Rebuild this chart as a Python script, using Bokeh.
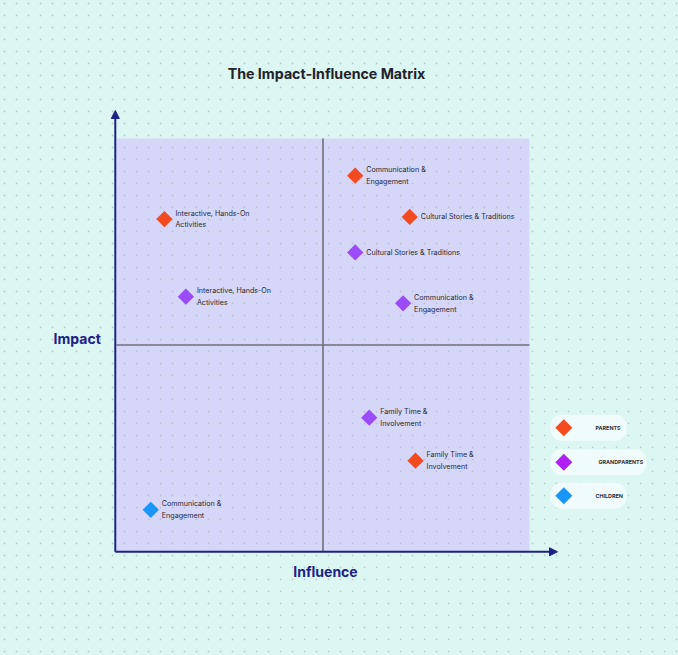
import numpy as np
from bokeh.plotting import figure
from bokeh.models import Range1d, ColumnDataSource, Arrow, NormalHead
from bokeh.core.properties import value
from bokeh.embed import file_html
from bokeh.resources import INLINE

# ---------------- data ----------------
series = ["Parents", "Grandparents", "Children"]
parents_items = ["Communication & Engagement", "Cultural Stories & Traditions",
                 "Interactive, Hands-On Activities", "Family Time & Involvement"]
parents_influence = [5.78, 7.10, 1.16, 7.24]
parents_impact = [9.10, 8.10, 8.05, 2.20]

grand_items = ["Cultural Stories & Traditions", "Communication & Engagement",
               "Interactive, Hands-On Activities", "Family Time & Involvement"]
grand_influence = [5.78, 6.94, 1.68, 6.12]
grand_impact = [7.24, 6.01, 6.17, 3.24]

children_items = ["Communication & Engagement"]
children_influence = [0.83]
children_impact = [1.01]

wrapped = {
    "Communication & Engagement": "Communication &\nEngagement",
    "Cultural Stories & Traditions": "Cultural Stories & Traditions",
    "Interactive, Hands-On Activities": "Interactive, Hands-On\nActivities",
    "Family Time & Involvement": "Family Time &\nInvolvement",
}

title_text = "The Impact-Influence Matrix"
x_label = "Influence"
y_label = "Impact"

# ---------------- style ----------------
BG = "#dcf6f2"
LAV = "#d5d6f8"
NAVY = "#1c2187"
MID = "#6f6f7c"
TXT = "#2a2a33"
COLORS = {"Parents": "#f44a1f", "Grandparents": "#9b4cf8", "Children": "#1a96fb"}
LEG_COLORS = {"Parents": "#f44a1f", "Grandparents": "#b020f5", "Children": "#1a96fb"}
FONT = value("Inter")

W, H = 678, 655
OFF = 0  # figure origin in page pixels
X0, Y0, S = 116.0, 551.0, 41.3


def px(xp):
    return (xp - X0) / S


def py(yp):
    return (Y0 - yp) / S


p = figure(width=W, height=H, output_backend="svg", toolbar_location=None,
           x_range=Range1d(px(OFF), px(OFF + W)), y_range=Range1d(py(OFF + H), py(OFF)),
           min_border=0, min_border_left=0, min_border_right=0,
           min_border_top=0, min_border_bottom=0)
p.axis.visible = False
p.grid.visible = False
p.outline_line_color = None
p.background_fill_color = BG
p.border_fill_color = BG

# quadrant area
p.quad(left=0, right=10, bottom=0, top=10, fill_color=LAV, line_color=None)

# dotted background
gx, gy = np.meshgrid(np.arange(4, 680, 12), np.arange(3, 660, 12))
p.scatter(px(gx.ravel()), py(gy.ravel()), marker="square", size=1.4,
          fill_color="#a6bab9", line_color=None, alpha=0.8)

# quadrant lines
p.segment(x0=[5, 0], y0=[0, 5], x1=[5, 10], y1=[10, 5], line_color=MID, line_width=1.6)

# axes with arrows
p.add_layout(Arrow(x_start=px(114.8), y_start=py(551.3), x_end=px(114.8), y_end=py(110),
                   line_color=NAVY, line_width=2,
                   end=NormalHead(size=8, fill_color=NAVY, line_color=NAVY)))
p.add_layout(Arrow(x_start=px(114.8), y_start=py(551.3), x_end=px(557), y_end=py(551.3),
                   line_color=NAVY, line_width=2,
                   end=NormalHead(size=8, fill_color=NAVY, line_color=NAVY)))

# points and labels
for name, items, xs, ys in [("Parents", parents_items, parents_influence, parents_impact),
                            ("Grandparents", grand_items, grand_influence, grand_impact),
                            ("Children", children_items, children_influence, children_impact)]:
    src = ColumnDataSource(dict(x=xs, y=ys, label=[wrapped[i] for i in items]))
    p.scatter("x", "y", source=src, marker="square", size=11.5, angle=np.pi / 4,
              fill_color=COLORS[name], line_color=None)
    p.text("x", "y", text="label", source=src, x_offset=11, text_font=FONT,
           text_font_size="7.15px", text_color=TXT, text_baseline="middle",
           text_align="left", text_line_height=1.32)

# titles
p.text([px(326)], [py(73)], text=[title_text], text_font=FONT, text_font_size="14.2px",
       text_font_style="bold", text_color="#22222a", text_align="center",
       text_baseline="alphabetic")
p.text([px(76.7)], [py(337.5)], text=[y_label], text_font=FONT, text_font_size="14px",
       text_font_style="bold", text_color=NAVY, text_align="center",
       text_baseline="alphabetic")
p.text([px(325)], [py(571)], text=[x_label], text_font=FONT, text_font_size="14px",
       text_font_style="bold", text_color=NAVY, text_align="center",
       text_baseline="alphabetic")

# legend
leg_box_x = [588, 598, 588]
leg_box_w = [76, 96, 76]
leg_y = [427.3, 461.8, 495.3]
leg_text_x = [595, 598, 595]
p.rect(x=[px(v) for v in leg_box_x], y=[py(v) for v in leg_y],
       width=leg_box_w, height=[26, 26, 26], width_units="screen", height_units="screen",
       fill_color="#effcfb", line_color=None, border_radius=11)
p.scatter([px(563.3)] * 3, [py(v) for v in leg_y], marker="square", size=12, angle=np.pi / 4,
          fill_color=[LEG_COLORS[s] for s in series], line_color=None)
p.text([px(v) for v in leg_text_x], [py(v) for v in leg_y], text=[s.upper() for s in series],
       text_font=FONT, text_font_size="5.4px", text_font_style="bold", text_color="#33333d",
       text_align="left", text_baseline="middle")

html = file_html(p, INLINE)
html = html.replace("</head>", "<style>html,body{background:%s;}</style></head>" % BG, 1)
open("out.html", "w").write(html)
